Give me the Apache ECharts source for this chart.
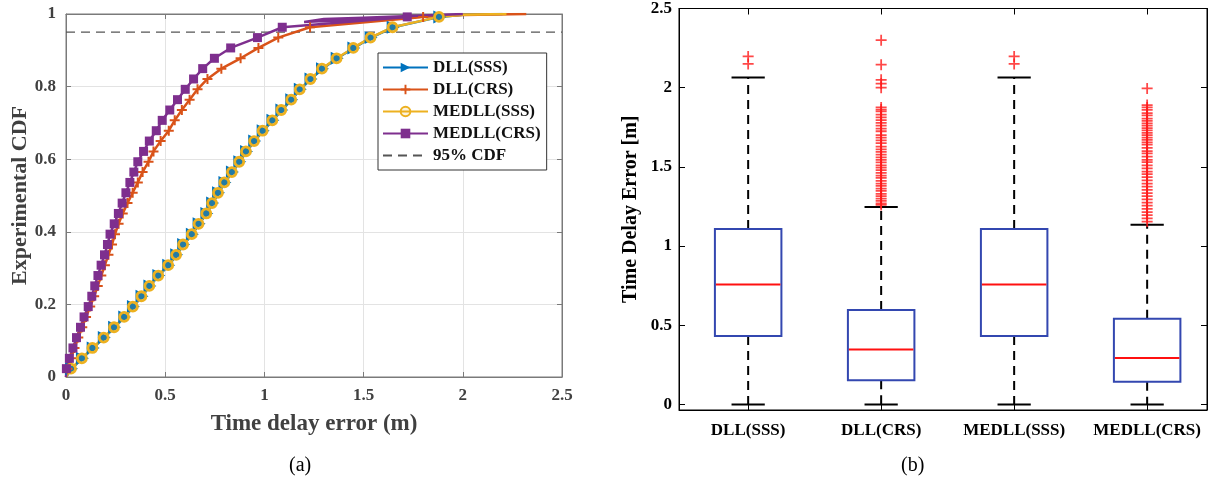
<!DOCTYPE html>
<html><head><meta charset="utf-8">
<script src="https://cdn.jsdelivr.net/npm/echarts@6/dist/echarts.min.js"></script>
<style>html,body{margin:0;padding:0;background:#fff}#c{width:1215px;height:492px}</style>
</head><body><div id="c"></div>
<script>
// ---- CDF panel (a) ----
const cdfLevels = [0.023,0.0515,0.08,0.1085,0.137,0.1655,0.194,0.2225,0.251,0.2795,0.308,0.3365,0.365,0.3935,0.422,0.4505,0.479,0.5075,0.536,0.5645,0.593,0.6215,0.65,0.6785,0.707,0.7355,0.764,0.7925,0.821,0.8495,0.878,0.9065,0.935,0.9635,0.992];
const xDllSss   = [0.028,0.083,0.137,0.193,0.245,0.296,0.34,0.383,0.423,0.468,0.518,0.558,0.593,0.637,0.671,0.71,0.739,0.769,0.801,0.839,0.876,0.91,0.951,0.994,1.043,1.088,1.138,1.181,1.235,1.293,1.367,1.451,1.538,1.649,1.884];
const xDllCrs   = [0.008,0.025,0.043,0.062,0.082,0.101,0.122,0.142,0.16,0.178,0.196,0.214,0.232,0.247,0.265,0.286,0.31,0.336,0.362,0.386,0.416,0.441,0.477,0.518,0.548,0.584,0.623,0.663,0.713,0.783,0.88,0.97,1.07,1.23,1.8];
const xMedllSss = [0.025,0.08,0.133,0.19,0.242,0.293,0.337,0.38,0.42,0.465,0.515,0.555,0.59,0.634,0.668,0.707,0.736,0.766,0.798,0.836,0.873,0.907,0.948,0.991,1.04,1.085,1.135,1.178,1.232,1.29,1.364,1.448,1.535,1.646,1.88];
const xMedllCrs = [0.002,0.017,0.035,0.053,0.073,0.091,0.112,0.13,0.145,0.161,0.177,0.194,0.209,0.222,0.243,0.264,0.283,0.302,0.322,0.342,0.362,0.391,0.42,0.455,0.485,0.523,0.562,0.601,0.643,0.689,0.748,0.83,0.965,1.09,1.72];
// extra line vertices (no marker)
const tailDllSss   = [[2.0,0.998],[2.2,1.0]];
const tailDllCrs   = [[1.35,0.975],[1.5,0.982],[1.7,0.99],[2.0,0.997],[2.32,1.0]];
const tailMedllSss = [[2.0,0.998],[2.22,1.0]];
const tailMedllCrs = [[1.2,0.978],[1.3,0.986],[1.5,0.99],[2.0,1.0]];
const cdfNames = ['DLL(SSS)','DLL(CRS)','MEDLL(SSS)','MEDLL(CRS)','95% CDF'];
const cdfRef = 0.95;

// ---- Box plot panel (b) ----
const boxCategories = ['DLL(SSS)','DLL(CRS)','MEDLL(SSS)','MEDLL(CRS)'];
const boxMin    = [0, 0, 0, 0];
const boxQ1     = [0.432, 0.153, 0.432, 0.143];
const boxMedian = [0.757, 0.347, 0.757, 0.294];
const boxQ3     = [1.108, 0.596, 1.108, 0.541];
const boxMax    = [2.064, 1.247, 2.064, 1.135];
const boxTicks  = [0, 0.5, 1, 1.5, 2, 2.5];
const outDllSss   = [2.15, 2.197];
const outDllCrs   = [2.30,2.145,2.05,2.025,2.0,1.875,1.862,1.85,1.83,1.812,1.795,1.778,1.76,1.742,1.725,1.70,1.685,1.668,1.65,1.628,1.61,1.595,1.578,1.56,1.545,1.528,1.51,1.495,1.48,1.462,1.445,1.43,1.412,1.395,1.38,1.362,1.348,1.33,1.315,1.3,1.285,1.27,1.26];
const outMedllSss = [2.15, 2.197];
const outMedllCrs = [1.995,1.89,1.875,1.86,1.84,1.825,1.805,1.79,1.775,1.76,1.745,1.73,1.715,1.70,1.685,1.67,1.655,1.64,1.62,1.60,1.585,1.565,1.545,1.53,1.51,1.49,1.47,1.455,1.435,1.415,1.395,1.375,1.355,1.335,1.315,1.295,1.275,1.255,1.235,1.215,1.195,1.175,1.155];

const SERIF = 'Liberation Serif';
const PLUS = 'path://M4,0H6V4H10V6H6V10H4V6H0V4H4Z';
const PLUS_THIN = 'path://M4.2,0H5.8V4.2H10V5.8H5.8V10H4.2V5.8H0V4.2H4.2Z';

function cdfData(xs, tail){
  const d = [{value:[0,0], symbol:'none'}];
  xs.forEach((x,i)=>d.push([x, cdfLevels[i]]));
  tail.forEach(p=>d.push({value:p, symbol:'none'}));
  return d;
}

const chart = echarts.init(document.getElementById('c'), null, {renderer:'canvas'});

const leftLabel = {fontFamily:SERIF, fontWeight:'bold', fontSize:17, color:'#404040'};
const rightLabel = {fontFamily:SERIF, fontWeight:'bold', fontSize:17, color:'#000'};

const boxData = boxCategories.map((c,i)=>[i+1, boxMin[i], boxQ1[i], boxMedian[i], boxQ3[i], boxMax[i]]);
const outliers = [outDllSss,outDllCrs,outMedllSss,outMedllCrs];
const outData = [];
outliers.forEach((arr,i)=>arr.forEach(v=>outData.push([i+1, v])));

const option = {
  animation:false,
  backgroundColor:'#fff',
  grid:[
    {left:66, top:14, width:496, height:363, show:true, borderColor:'#7a7a7a', borderWidth:1, backgroundColor:'#fff'},
    {left:679, top:8, width:528, height:402, show:true, borderColor:'#000', borderWidth:1, backgroundColor:'#fff'}
  ],
  xAxis:[
    {gridIndex:0, type:'value', min:0, max:2.5, interval:0.5,
     name:'Time delay error (m)', nameLocation:'middle', nameGap:36,
     nameTextStyle:{fontFamily:SERIF, fontWeight:'bold', fontSize:23, color:'#404040'},
     axisLine:{onZero:false, lineStyle:{color:'#7a7a7a'}}, axisTick:{inside:true, length:5, lineStyle:{color:'#7a7a7a'}},
     axisLabel:Object.assign({margin:10}, leftLabel),
     splitLine:{show:true, lineStyle:{color:'#e3e3e3'}}},
    {gridIndex:0, type:'value', min:0, max:2.5, interval:0.5, position:'top',
     axisLine:{onZero:false, lineStyle:{color:'#7a7a7a'}}, axisTick:{inside:true, length:5, lineStyle:{color:'#7a7a7a'}},
     axisLabel:{show:false}, splitLine:{show:false}},
    {gridIndex:1, type:'value', min:0.48, max:4.45,
     axisLine:{onZero:false, lineStyle:{color:'#000'}},
     axisTick:{inside:true, length:6, customValues:[1,2,3,4], lineStyle:{color:'#000'}},
     axisLabel:Object.assign({margin:12, customValues:[1,2,3,4], formatter:v=>boxCategories[Math.round(v)-1]}, rightLabel),
     splitLine:{show:false}},
    {gridIndex:1, type:'value', min:0.48, max:4.45, position:'top',
     axisLine:{onZero:false, lineStyle:{color:'#000'}},
     axisTick:{inside:true, length:6, customValues:[1,2,3,4], lineStyle:{color:'#000'}},
     axisLabel:{show:false}, splitLine:{show:false}}
  ],
  yAxis:[
    {gridIndex:0, type:'value', min:0, max:1, interval:0.2,
     name:'Experimental CDF', nameLocation:'middle', nameGap:34,
     nameTextStyle:{fontFamily:SERIF, fontWeight:'bold', fontSize:22, color:'#404040'},
     axisLine:{onZero:false, lineStyle:{color:'#7a7a7a'}}, axisTick:{inside:true, length:5, lineStyle:{color:'#7a7a7a'}},
     axisLabel:Object.assign({margin:10}, leftLabel),
     splitLine:{show:true, lineStyle:{color:'#e3e3e3'}}},
    {gridIndex:0, type:'value', min:0, max:1, interval:0.2, position:'right',
     axisLine:{onZero:false, lineStyle:{color:'#7a7a7a'}}, axisTick:{inside:true, length:5, lineStyle:{color:'#7a7a7a'}},
     axisLabel:{show:false}, splitLine:{show:false}},
    {gridIndex:1, type:'value', min:-0.035, max:2.5,
     name:'Time Delay Error [m]', nameLocation:'middle', nameGap:38,
     nameTextStyle:{fontFamily:SERIF, fontWeight:'bold', fontSize:20, color:'#000'},
     axisLine:{onZero:false, lineStyle:{color:'#000'}}, axisTick:{inside:true, length:6, customValues:boxTicks, lineStyle:{color:'#000'}},
     axisLabel:Object.assign({margin:7, customValues:boxTicks}, rightLabel),
     splitLine:{show:false}},
    {gridIndex:1, type:'value', min:-0.035, max:2.5, position:'right',
     axisLine:{onZero:false, lineStyle:{color:'#000'}}, axisTick:{inside:true, length:6, customValues:boxTicks, lineStyle:{color:'#000'}},
     axisLabel:{show:false}, splitLine:{show:false}}
  ],
  legend:{
    orient:'vertical', left:378, top:53, padding:[6,6,6,4], itemGap:5, itemWidth:45, itemHeight:12,
    borderColor:'#333', borderWidth:1, backgroundColor:'#fff',
    textStyle:{fontFamily:SERIF, fontWeight:'bold', fontSize:17, color:'#111'},
    data:[cdfNames[0],cdfNames[1],cdfNames[2],cdfNames[3],{name:cdfNames[4], itemStyle:{opacity:0}}]
  },
  series:[
    {name:cdfNames[0], type:'line', xAxisIndex:0, yAxisIndex:0, data:cdfData(xDllSss, tailDllSss),
     symbol:'triangle', symbolRotate:-90, symbolSize:13, showAllSymbol:true,
     lineStyle:{color:'#0072BD', width:2.5}, itemStyle:{color:'#0072BD'}},
    {name:cdfNames[1], type:'line', xAxisIndex:0, yAxisIndex:0, data:cdfData(xDllCrs, tailDllCrs),
     symbol:PLUS, symbolSize:10, showAllSymbol:true,
     lineStyle:{color:'#D95319', width:2.5}, itemStyle:{color:'#D95319'}},
    {name:cdfNames[2], type:'line', xAxisIndex:0, yAxisIndex:0, data:cdfData(xMedllSss, tailMedllSss),
     symbol:'circle', symbolSize:9, showAllSymbol:true,
     lineStyle:{color:'#EDB120', width:2.5}, itemStyle:{color:'rgba(237,177,32,0.15)', borderColor:'#EDB120', borderWidth:2.8}},
    {name:cdfNames[3], type:'line', xAxisIndex:0, yAxisIndex:0, data:cdfData(xMedllCrs, tailMedllCrs),
     symbol:'rect', symbolSize:9, showAllSymbol:true,
     lineStyle:{color:'#7E2F8E', width:2.5}, itemStyle:{color:'#7E2F8E'}},
    {name:cdfNames[4], type:'line', xAxisIndex:0, yAxisIndex:0, data:[[0,cdfRef],[2.5,cdfRef]],
     symbol:'none', lineStyle:{color:'#555', width:1.2, type:[9,6]}, itemStyle:{color:'#555'}, z:1},
    {name:'box', type:'custom', xAxisIndex:2, yAxisIndex:2, data:boxData,
     encode:{x:0, y:[1,2,3,4,5]},
     renderItem:function(params, api){
       const p = api.value(0);
       const mn = api.coord([p, api.value(1)]);
       const q1 = api.coord([p, api.value(2)]);
       const md = api.value(3);
       const q3 = api.coord([p, api.value(4)]);
       const mx = api.coord([p, api.value(5)]);
       const bl = api.coord([p-0.25, api.value(4)]);
       const br = api.coord([p+0.25, api.value(2)]);
       const ml = api.coord([p-0.25, md]);
       const mr = api.coord([p+0.25, md]);
       const cl = api.coord([p-0.125, 0])[0];
       const cr = api.coord([p+0.125, 0])[0];
       const dash = {stroke:'#000', lineWidth:2, lineDash:[9,6]};
       const solid = {stroke:'#000', lineWidth:2};
       return {type:'group', children:[
         {type:'line', shape:{x1:q3[0], y1:q3[1], x2:mx[0], y2:mx[1]}, style:dash},
         {type:'line', shape:{x1:q1[0], y1:q1[1], x2:mn[0], y2:mn[1]}, style:dash},
         {type:'line', shape:{x1:cl, y1:mx[1], x2:cr, y2:mx[1]}, style:solid},
         {type:'line', shape:{x1:cl, y1:mn[1], x2:cr, y2:mn[1]}, style:solid},
         {type:'rect', shape:{x:bl[0], y:bl[1], width:br[0]-bl[0], height:br[1]-bl[1]}, style:{fill:'#fff', stroke:'#3347b0', lineWidth:2}},
         {type:'line', shape:{x1:ml[0]+1, y1:ml[1], x2:mr[0]-1, y2:mr[1]}, style:{stroke:'#ff1010', lineWidth:2}}
       ]};
     }},
    {name:'outliers', type:'scatter', xAxisIndex:2, yAxisIndex:2, data:outData,
     symbol:PLUS_THIN, symbolSize:11, itemStyle:{color:'#ff1a1a'}}
  ],
  graphic:[
    {type:'text', left:289, top:456, style:{text:'(a)', font:'20px "Liberation Serif"', fill:'#000'}},
    {type:'text', left:901, top:456, style:{text:'(b)', font:'20px "Liberation Serif"', fill:'#000'}}
  ]
};
chart.setOption(option);
</script>
</body></html>
